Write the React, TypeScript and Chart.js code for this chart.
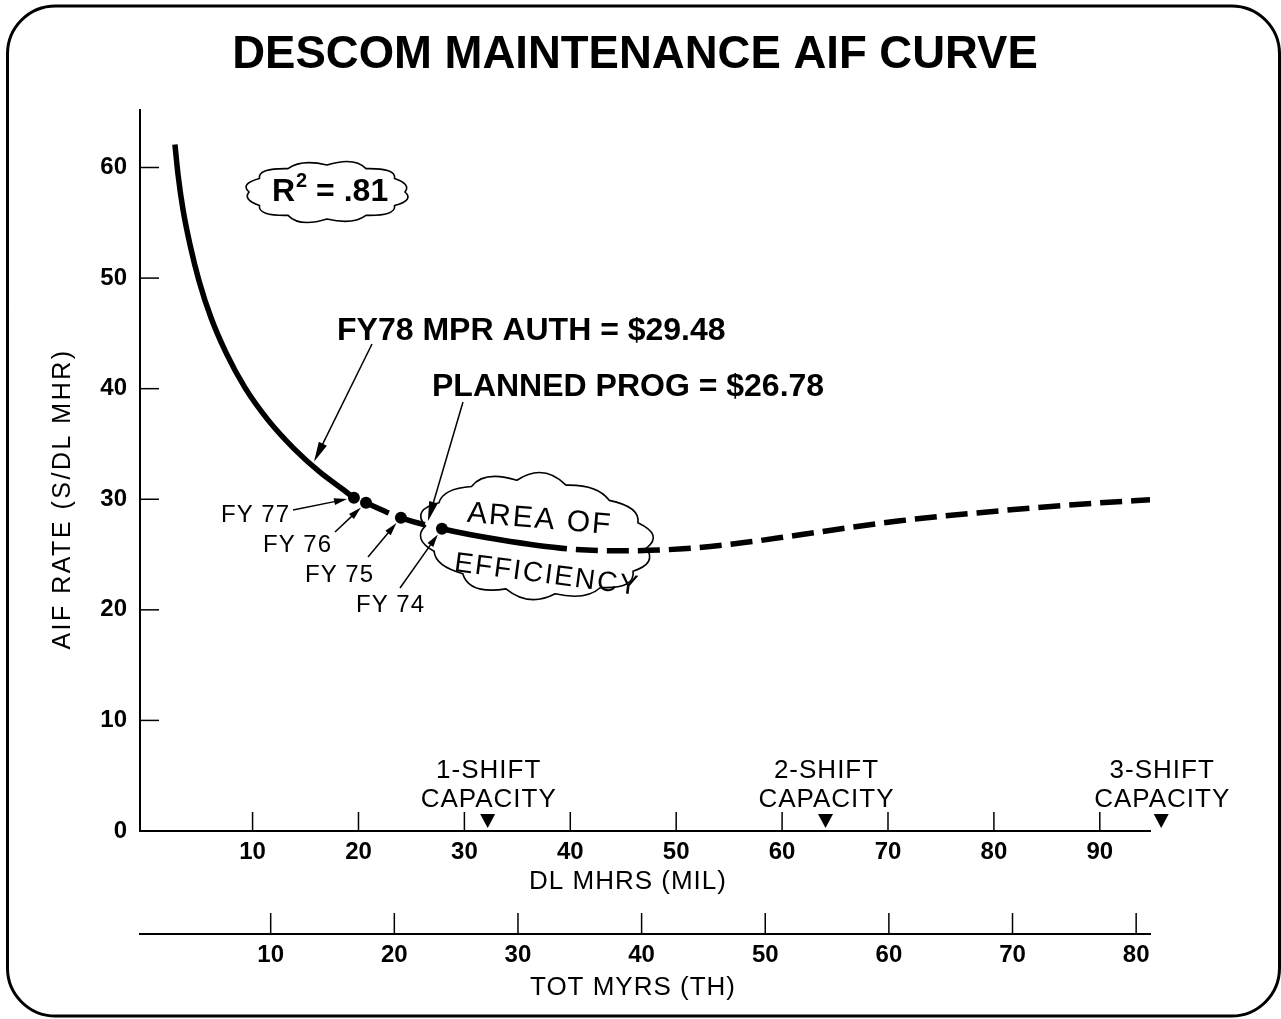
import React, { useEffect, useRef } from 'react';
import { Chart, registerables } from 'chart.js';

Chart.register(...registerables);

const FONT = "'Liberation Sans', Arial, Helvetica, sans-serif";

// ---- text ----
const chartTitle = 'DESCOM MAINTENANCE AIF CURVE';
const yAxisTitle = 'AIF RATE (S/DL MHR)';
const xAxisTitle = 'DL MHRS (MIL)';
const x2AxisTitle = 'TOT MYRS (TH)';
const rSquaredText = '.81';
const fy78Text = 'FY78 MPR AUTH = $29.48';
const plannedText = 'PLANNED PROG = $26.78';
const efficiencyText = ['AREA OF', 'EFFICIENCY'];

// ---- ticks ----
const yTicks = [0, 10, 20, 30, 40, 50, 60];
const xTicks = [10, 20, 30, 40, 50, 60, 70, 80, 90];
const x2Ticks = [10, 20, 30, 40, 50, 60, 70, 80];

// ---- AIF curve (DL MHRS in millions vs AIF rate) ----
const curveX = [2.67, 2.96, 3.43, 4.09, 4.94, 6.07, 7.49, 9.28, 11.45, 14.0, 16.36, 18.73, 19.57, 20.71, 24.01, 27.88, 33.36, 39.68, 44.69, 50.64, 56.98, 61.7, 71.14, 80.58, 90.03, 94.75];
const curveY = [62.08, 59.37, 56.2, 53.03, 49.77, 46.43, 43.26, 40.09, 37.18, 34.49, 32.45, 30.75, 30.14, 29.68, 28.33, 27.33, 26.33, 25.52, 25.34, 25.52, 26.15, 26.79, 28.05, 28.96, 29.68, 29.95];

// ---- fiscal year points ----
const fyLabels = ['FY 77', 'FY 76', 'FY 75', 'FY 74'];
const fyX = [19.57, 20.71, 24.01, 27.88];
const fyY = [30.14, 29.68, 28.33, 27.33];

// ---- curve style breakpoints ----
const efficientEndX = 39.68;

// ---- arrow targets ----
const fy78Target = { x: 15.8, y: 33.4 };
const plannedTarget = { x: 26.55, y: 28.0 };

// ---- capacity markers ----
const capacityNames = ['1-SHIFT', '2-SHIFT', '3-SHIFT'];
const capacityX = [32.2, 64.1, 95.8];

function drawArrow(ctx: CanvasRenderingContext2D, x1: number, y1: number, x2: number, y2: number, head = 16, half = 4) {
  const a = Math.atan2(y2 - y1, x2 - x1);
  const c = Math.cos(a), s = Math.sin(a);
  ctx.beginPath();
  ctx.moveTo(x1, y1);
  ctx.lineTo(x2 - c * head * 0.7, y2 - s * head * 0.7);
  ctx.stroke();
  ctx.beginPath();
  ctx.moveTo(x2, y2);
  ctx.lineTo(x2 - c * head + s * half, y2 - s * head - c * half);
  ctx.lineTo(x2 - c * head - s * half, y2 - s * head + c * half);
  ctx.closePath();
  ctx.fill();
}

function drawCloud(ctx: CanvasRenderingContext2D, cx: number, cy: number, rx: number, ry: number, n: number, bump: number, rot: number) {
  ctx.save();
  ctx.translate(cx, cy);
  ctx.rotate(rot);
  ctx.beginPath();
  for (let i = 0; i <= n; i++) {
    const a = (i / n) * Math.PI * 2;
    const px = rx * Math.cos(a);
    const py = ry * Math.sin(a);
    if (i === 0) {
      ctx.moveTo(px, py);
      continue;
    }
    const am = ((i - 0.5) / n) * Math.PI * 2;
    const mx = rx * Math.cos(am);
    const my = ry * Math.sin(am);
    const len = Math.hypot(mx, my) || 1;
    const b = bump * (1 + 0.25 * (((i * 7) % 3) - 1));
    ctx.quadraticCurveTo(mx + (mx / len) * b * 2, my + (my / len) * b * 2, px, py);
  }
  ctx.closePath();
  ctx.stroke();
  ctx.restore();
}

const annotations = {
  id: 'annotations',
  afterDraw(chart: any) {
    const { ctx, chartArea, scales } = chart;
    const xs = scales.x;
    const ys = scales.y;
    const x2s = scales.x2;
    ctx.save();
    ctx.strokeStyle = '#000';
    ctx.fillStyle = '#000';
    ctx.letterSpacing = '0px';

    // frame
    ctx.lineWidth = 3;
    ctx.beginPath();
    ctx.roundRect(7.5, 6, 1272, 1010, 48);
    ctx.stroke();

    // inward tick marks
    ctx.lineWidth = 1.5;
    yTicks.forEach((v) => {
      if (v === 0) return;
      const p = ys.getPixelForValue(v);
      ctx.beginPath();
      ctx.moveTo(chartArea.left, p);
      ctx.lineTo(chartArea.left + 19, p);
      ctx.stroke();
    });
    xTicks.forEach((v) => {
      const p = xs.getPixelForValue(v);
      ctx.beginPath();
      ctx.moveTo(p, xs.top);
      ctx.lineTo(p, xs.top - 19);
      ctx.stroke();
    });
    x2Ticks.forEach((v) => {
      const p = x2s.getPixelForValue(v);
      ctx.beginPath();
      ctx.moveTo(p, x2s.top);
      ctx.lineTo(p, x2s.top - 21);
      ctx.stroke();
    });

    // title
    ctx.textAlign = 'center';
    ctx.textBaseline = 'alphabetic';
    ctx.font = `bold 45.5px ${FONT}`;
    ctx.fillText(chartTitle, 635, 68);

    // axis titles
    ctx.font = `26px ${FONT}`;
    ctx.letterSpacing = '1px';
    ctx.fillText(xAxisTitle, 628, 889);
    ctx.fillText(x2AxisTitle, 633, 995);
    ctx.save();
    ctx.translate(70, 499);
    ctx.rotate(-Math.PI / 2);
    ctx.font = `25px ${FONT}`;
    ctx.letterSpacing = '2.5px';
    ctx.fillText(yAxisTitle, 0, 0);
    ctx.restore();

    // capacity markers
    ctx.font = `26px ${FONT}`;
    ctx.letterSpacing = '1px';
    capacityNames.forEach((name, i) => {
      const p = xs.getPixelForValue(capacityX[i]);
      ctx.fillText(name, p + 1, 778);
      ctx.fillText('CAPACITY', p + 1, 807);
      ctx.beginPath();
      ctx.moveTo(p - 7.5, 814);
      ctx.lineTo(p + 7.5, 814);
      ctx.lineTo(p, 828);
      ctx.closePath();
      ctx.fill();
    });

    // R squared cloud
    ctx.lineWidth = 1.6;
    drawCloud(ctx, 327, 192, 78, 27, 12, 6, 0);
    ctx.letterSpacing = '0px';
    ctx.textAlign = 'left';
    ctx.font = `bold 32px ${FONT}`;
    let tx = 272;
    ctx.fillText('R', tx, 201);
    tx += ctx.measureText('R').width + 1;
    ctx.font = `bold 20px ${FONT}`;
    ctx.fillText('2', tx, 187);
    tx += ctx.measureText('2').width;
    ctx.font = `bold 32px ${FONT}`;
    ctx.fillText(' = ' + rSquaredText, tx, 201);

    // area of efficiency cloud
    ctx.lineWidth = 1.6;
    drawCloud(ctx, 536, 537, 111, 56, 14, 7.5, 0.1);
    ctx.textAlign = 'center';
    ctx.save();
    ctx.translate(539, 528);
    ctx.rotate(0.085);
    ctx.font = `30px ${FONT}`;
    ctx.letterSpacing = '2px';
    ctx.fillText(efficiencyText[0], 0, 0);
    ctx.restore();
    ctx.save();
    ctx.translate(546, 583);
    ctx.rotate(0.13);
    ctx.font = `28px ${FONT}`;
    ctx.letterSpacing = '2px';
    ctx.fillText(efficiencyText[1], 0, 0);
    ctx.restore();

    // FY78 and planned program labels
    ctx.letterSpacing = '0px';
    ctx.textAlign = 'left';
    ctx.font = `bold 32px ${FONT}`;
    ctx.fillText(fy78Text, 337, 340);
    ctx.fillText(plannedText, 432, 396);
    ctx.lineWidth = 1.5;
    drawArrow(ctx, 372, 344, xs.getPixelForValue(fy78Target.x), ys.getPixelForValue(fy78Target.y), 20, 4.5);
    drawArrow(ctx, 463, 402, xs.getPixelForValue(plannedTarget.x), ys.getPixelForValue(plannedTarget.y), 20, 4.5);

    // FY labels with arrows
    const labelPos = [
      { lx: 221, ly: 522, ax: 293, ay: 510 },
      { lx: 263, ly: 552, ax: 335, ay: 532 },
      { lx: 305, ly: 582, ax: 368, ay: 557 },
      { lx: 356, ly: 612, ax: 400, ay: 588 },
    ];
    ctx.font = `24px ${FONT}`;
    ctx.letterSpacing = '1px';
    fyLabels.forEach((lab, i) => {
      const L = labelPos[i];
      ctx.fillText(lab, L.lx, L.ly);
      const px = xs.getPixelForValue(fyX[i]);
      const py = ys.getPixelForValue(fyY[i]);
      const d = Math.hypot(px - L.ax, py - L.ay);
      const ex = px - ((px - L.ax) / d) * 7;
      const ey = py - ((py - L.ay) / d) * 7;
      drawArrow(ctx, L.ax, L.ay, ex, ey, 13, 3.5);
    });

    ctx.restore();
  },
};

export default function App() {
  const ref = useRef<HTMLCanvasElement>(null);

  useEffect(() => {
    const canvas = ref.current;
    if (!canvas) return;
    const tickFont = { family: FONT, size: 24, weight: 'bold' as const };
    const chart = new Chart(canvas, {
      type: 'line',
      data: {
        datasets: [
          {
            label: 'AIF curve',
            data: curveX.map((x, i) => ({ x, y: curveY[i] })),
            borderColor: '#000',
            borderWidth: 5.5,
            pointRadius: 0,
            cubicInterpolationMode: 'monotone',
            borderCapStyle: 'butt',
            segment: {
              borderDash: (c: any) => {
                const x0 = c.p0.parsed.x;
                if (x0 >= fyX[0] && x0 < fyX[fyX.length - 1]) return [20, 18];
                if (x0 >= efficientEndX) return [22, 9];
                return [];
              },
              borderDashOffset: (c: any) => {
                const x0 = c.p0.parsed.x;
                if (x0 >= fyX[0] && x0 < fyX[fyX.length - 1]) return 20;
                if (x0 >= efficientEndX) return 22;
                return 0;
              },
            },
          } as any,
          {
            label: 'Fiscal years',
            data: fyX.map((x, i) => ({ x, y: fyY[i] })),
            showLine: false,
            pointRadius: 6,
            pointBackgroundColor: '#000',
            pointBorderWidth: 0,
            borderColor: '#000',
          },
        ],
      },
      options: {
        animation: false,
        responsive: false,
        layout: { padding: { top: 110, left: 30, right: 131, bottom: 18 } },
        plugins: {
          legend: { display: false },
          tooltip: { enabled: false },
          title: { display: false },
        },
        scales: {
          x: {
            type: 'linear',
            position: 'bottom',
            weight: 0,
            min: -0.63,
            max: 94.74,
            afterBuildTicks: (s: any) => {
              s.ticks = xTicks.map((v) => ({ value: v }));
            },
            afterFit: (s: any) => {
              s.height = 103;
            },
            grid: { display: true, drawOnChartArea: false, drawTicks: false },
            border: { display: true, color: '#000', width: 2 },
            ticks: { color: '#000', font: tickFont, padding: 7, autoSkip: false, maxRotation: 0 },
          },
          x2: {
            type: 'linear',
            position: 'bottom',
            weight: 1,
            min: -0.57,
            max: 81.12,
            afterBuildTicks: (s: any) => {
              s.ticks = x2Ticks.map((v) => ({ value: v }));
            },
            afterFit: (s: any) => {
              s.height = 67;
            },
            grid: { display: true, drawOnChartArea: false, drawTicks: false },
            border: { display: true, color: '#000', width: 2 },
            ticks: { color: '#000', font: tickFont, padding: 7, autoSkip: false, maxRotation: 0 },
          },
          y: {
            type: 'linear',
            position: 'left',
            min: 0,
            max: 65.2,
            afterBuildTicks: (s: any) => {
              s.ticks = yTicks.map((v) => ({ value: v }));
            },
            afterFit: (s: any) => {
              s.width = 110;
            },
            grid: { display: true, drawOnChartArea: false, drawTicks: false },
            border: { display: true, color: '#000', width: 2 },
            ticks: { color: '#000', font: tickFont, padding: 13, autoSkip: false },
          },
        },
      } as any,
      plugins: [annotations],
    });
    return () => chart.destroy();
  }, []);

  return (
    <div style={{ position: 'fixed', left: 0, top: 0, width: 1281, height: 1019, background: '#fff' }}>
      <canvas ref={ref} width={1281} height={1019} style={{ display: 'block' }} />
    </div>
  );
}
